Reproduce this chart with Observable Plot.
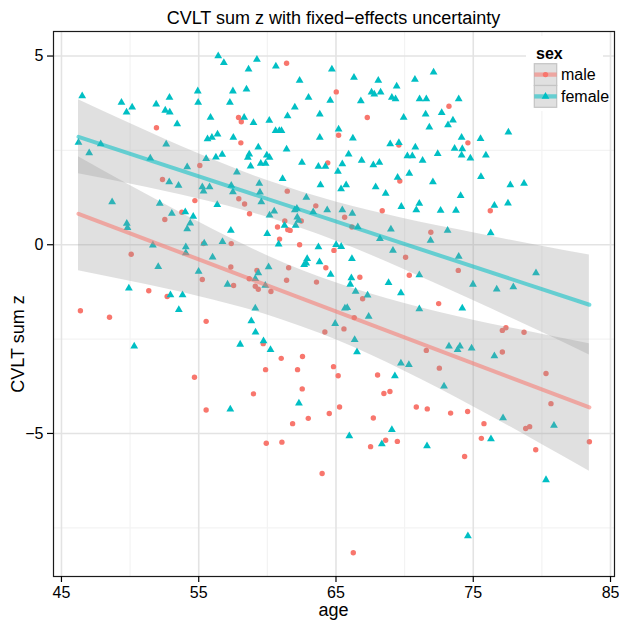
<!DOCTYPE html>
<html><head><meta charset="utf-8">
<script src="https://cdn.jsdelivr.net/npm/d3@7"></script>
<script src="https://cdn.jsdelivr.net/npm/@observablehq/plot@0.6"></script>
<style>body{margin:0;background:#fff} svg{display:block}</style>
</head><body><div id="chart"></div>
<script>
// ---- data ----
const femalePts = [
[56.42,5.00],[56.83,4.82],[46.51,3.94],[49.37,3.77],[50.15,3.64],[49.74,3.51],[51.90,3.72],[52.87,3.90],[52.56,3.56],[52.89,3.51],[53.43,3.20],[54.93,4.07],[54.96,3.77],[57.49,4.07],[57.27,3.77],[55.86,3.37],[55.64,2.80],[55.96,2.84],[56.37,2.93],[57.52,2.84],[46.24,2.71],[47.86,2.67],[47.02,2.43],[52.63,2.66],[51.47,2.29],[54.16,2.06],[55.54,2.28],[56.25,2.32],[56.71,2.39],[57.78,1.92],[52.85,1.66],[53.53,1.57],[55.26,1.53],[55.35,1.42],[55.79,1.53],[57.37,1.57],[57.49,1.40],[48.69,1.13],[52.16,1.09],[56.35,1.06],[53.04,0.83],[54.02,0.87],
[59.24,4.91],[58.63,4.65],[60.62,4.73],[58.48,4.12],[62.35,4.35],[64.70,4.65],[66.31,4.43],[68.08,4.35],[69.42,4.20],[70.75,4.38],[67.59,4.04],[67.79,3.99],[68.25,4.04],[69.07,3.90],[69.34,3.86],[71.09,3.86],[71.58,3.86],[63.00,3.90],[64.58,3.82],[66.81,3.81],[62.00,3.64],[63.82,3.46],[61.47,3.41],[60.14,3.29],[58.99,3.23],[58.31,3.37],[69.93,3.37],[71.53,3.46],[60.60,3.02],[60.87,3.02],[61.03,3.02],[65.19,3.06],[63.82,2.84],[66.23,2.82],[68.95,2.67],[69.58,2.70],[70.78,2.58],[59.34,2.58],[61.40,2.53],[58.68,2.40],[58.58,2.31],[58.78,2.08],[59.96,2.37],[60.16,2.31],[59.52,2.15],[59.87,2.15],[62.52,2.18],[63.72,2.07],[64.23,2.07],[65.46,2.14],[65.92,2.40],[66.87,2.23],[67.72,2.11],[68.16,2.18],[70.20,2.35],[70.56,2.35],[71.31,2.23],[65.14,1.94],[70.34,1.89],[69.49,1.78],[61.11,1.75],[63.87,1.58],[65.74,1.58],[65.37,1.48],[67.89,1.53],[68.62,1.36],[59.41,1.62],[59.46,1.39],[59.56,1.13],[62.84,1.25],[60.50,0.89],[62.00,0.92],[62.15,0.96],[63.34,0.87],[64.36,0.92],[65.46,0.92],[66.19,0.83],[69.76,1.01],[71.07,1.09],[70.85,0.92],
[72.11,4.57],[73.94,3.86],[72.70,3.50],[73.52,3.30],[73.16,3.17],[71.80,3.11],[74.15,2.84],[75.53,2.81],[77.56,2.98],[73.64,2.55],[74.20,2.54],[72.41,2.41],[74.15,2.37],[74.79,2.29],[75.92,2.37],[75.56,1.80],[72.06,1.66],[77.70,1.58],[78.70,1.62],[74.08,1.30],[76.54,1.04],[77.53,1.10],[72.62,0.91],[73.74,0.91],
[49.76,0.56],[49.81,0.45],[54.60,0.75],[54.38,0.57],[54.16,0.42],[51.66,-0.01],[54.06,-0.06],[54.06,-0.22],[55.40,0.04],[56.73,0.08],[57.34,0.38],[56.01,-0.33],[52.05,-0.58],[54.99,-0.71],[57.10,-1.05],[49.91,-1.15],[52.94,-1.33],[53.82,-1.33],[53.55,-1.72],[50.30,-2.69],[58.02,-2.64],
[60.16,0.78],[62.18,0.73],[62.27,0.64],[61.25,0.51],[62.06,0.51],[66.59,0.47],[69.00,0.41],[68.20,0.16],[59.99,0.29],[60.82,0.01],[63.72,-0.06],[65.01,0.00],[65.38,-0.05],[69.15,-0.15],[62.90,-0.37],[62.83,-0.49],[62.68,-0.53],[63.80,-0.46],[66.16,-0.37],[60.09,-0.59],[64.61,-0.79],[59.34,-0.75],[59.12,-0.90],[59.85,-1.08],[66.12,-0.88],[66.04,-1.05],[66.43,-1.24],[67.30,-1.34],[68.83,-1.01],[69.73,-1.28],[71.07,-0.80],[71.07,-1.70],[59.12,-1.68],[65.65,-1.68],[65.82,-1.67],[67.38,-1.90],[64.94,-2.09],[58.83,-2.02],[59.14,-2.32],[59.72,-2.55],[60.23,-2.78],[66.36,-2.52],[66.53,-2.84],[69.73,-3.14],[70.31,-3.18],[69.29,-3.48],
[73.13,0.38],[71.89,0.11],[76.27,0.31],[73.94,-0.31],[79.57,-0.75],[74.98,-1.05],[76.71,-1.18],[77.92,-1.12],[74.20,-1.68],[73.23,-2.69],[73.86,-2.78],[74.03,-2.69],[74.88,-2.74],[76.54,-2.95],[72.87,-3.75],
[57.30,-4.36],[62.30,-4.20],[65.97,-5.07],[69.07,-4.90],[68.34,-5.28],[71.63,-5.33],
[77.17,-4.59],[76.29,-5.15],[80.88,-4.79],[80.30,-6.23],[74.61,-7.72]
];
const malePts = [
[51.92,3.10],[57.90,3.37],[58.10,3.26],[58.07,2.70],[55.08,2.10],[52.36,1.73],[54.72,1.17],[57.92,1.22],[53.77,0.86],
[61.40,4.81],[65.02,4.05],[67.28,3.37],[65.19,2.90],[69.58,2.64],[64.40,2.17],[69.65,1.69],[61.45,1.42],[63.53,1.03],[68.37,0.90],[58.34,1.08],[58.70,0.82],
[73.23,3.67],[74.61,2.70],[76.24,0.90],
[52.53,0.67],[50.08,-0.25],[55.35,0.03],[57.37,0.03],[57.34,-0.59],[55.26,-0.92],[57.54,-1.08],[51.36,-1.22],[52.70,-1.37],[46.38,-1.75],[48.50,-1.92],[55.54,-2.03],[54.69,-3.51],
[60.74,0.47],[61.27,0.63],[62.47,0.63],[61.49,0.40],[61.66,0.38],[65.63,0.73],[60.89,0.15],[62.35,0.00],[64.85,-0.15],[66.16,0.47],[70.07,-0.33],[61.55,-0.61],[64.26,-0.61],[59.24,-0.68],[58.68,-0.90],[61.40,-0.94],[63.58,-0.99],[66.74,-0.86],[70.34,-0.81],[59.12,-1.10],[59.34,-1.18],[60.26,-1.24],[66.94,-1.43],[66.33,-1.93],[65.58,-2.23],[64.19,-2.31],[71.58,-2.80],[59.70,-2.62],[61.01,-3.01],[62.56,-2.96],[59.87,-3.31],[62.20,-3.31],[64.82,-3.23],[65.16,-3.47],[68.03,-3.45],[58.99,-3.95],[62.54,-3.82],[68.49,-3.94],[68.93,-3.89],
[71.91,0.33],[73.91,-0.68],[72.48,-1.56],[77.12,-2.27],[77.38,-2.20],[78.70,-2.32],[77.12,-2.84],[72.53,-3.27],[80.30,-3.41],
[55.54,-4.38],
[65.26,-4.30],[62.98,-4.60],[64.51,-4.47],[61.84,-4.74],[67.72,-4.59],[70.85,-4.30],[71.65,-4.35],[59.92,-5.26],[61.06,-5.23],[63.99,-6.06],[67.52,-5.35],[68.62,-5.18],[69.47,-5.21],[66.26,-8.16],
[73.35,-4.46],[74.59,-4.42],[75.78,-4.74],[75.59,-5.13],[74.37,-5.61],[78.82,-4.87],[79.11,-4.82],[79.55,-5.43],[80.66,-4.21],[83.46,-5.22]
];
// fitted lines (end points) and uncertainty ribbons
const fitAge = [46.24, 83.46];
const femaleFit = [2.86, -1.59];
const maleFit = [0.82, -4.31];
const ribbonAge   = [46.24, 50, 55, 60, 65, 70, 75, 80, 83.46];
const femaleUpper = [3.84, 3.21, 2.41, 1.70, 1.13, 0.69, 0.32, -0.04, -0.27];
const femaleLower = [1.88, 1.61, 1.21, 0.73, 0.10, -0.66, -1.48, -2.32, -2.92];
const maleUpper   = [2.33, 1.57, 0.60, -0.29, -1.01, -1.56, -2.00, -2.37, -2.62];
const maleLower   = [-0.69, -0.97, -1.37, -1.86, -2.52, -3.35, -4.29, -5.29, -6.00];
const xMajor = [45, 55, 65, 75, 85];
const xMinor = [50, 60, 70, 80];
const yMajor = [-5, 0, 5];
const yMinor = [-7.5, -2.5, 2.5];
const sexes = ["male", "female"];
const colors = {male: "#F8766D", female: "#00BFC4"};

// ---- tables ----
const female = femalePts.map(([age, z]) => ({age, z}));
const male = malePts.map(([age, z]) => ({age, z}));
const ribbon = (lo, hi) => ribbonAge.map((age, i) => ({age, lo: lo[i], hi: hi[i]}));
const fit = (v) => fitAge.map((age, i) => ({age, z: v[i]}));

const FONT = "'Liberation Sans', Arial, Helvetica, sans-serif";
const M = {top: 31, bottom: 46, left: 53, right: 5};
const W = 619, H = 622;
const RC = 2.7, RT = 2.9;

const plot = Plot.plot({
  width: W, height: H,
  marginTop: M.top, marginBottom: M.bottom, marginLeft: M.left, marginRight: M.right,
  style: {fontFamily: FONT, color: "black", background: "white"},
  x: {domain: [44.42, 85.29], label: null},
  y: {domain: [-8.79, 5.65], label: null},
  marks: [
    Plot.gridX(xMinor, {stroke: "#f3f3f3", strokeOpacity: 1, strokeWidth: 1.2}),
    Plot.gridY(yMinor, {stroke: "#f3f3f3", strokeOpacity: 1, strokeWidth: 1.2}),
    Plot.gridX(xMajor, {stroke: "#e3e3e3", strokeOpacity: 1, strokeWidth: 1.6}),
    Plot.gridY(yMajor, {stroke: "#e3e3e3", strokeOpacity: 1, strokeWidth: 1.6}),
    Plot.dot(male, {x: "age", y: "z", r: RC, fill: colors.male, symbol: "circle"}),
    Plot.dot(female, {x: "age", y: "z", r: RT, fill: colors.female, symbol: "triangle"}),
    Plot.areaY(ribbon(femaleLower, femaleUpper), {x: "age", y1: "lo", y2: "hi", fill: "#999999", fillOpacity: 0.3, curve: "monotone-x"}),
    Plot.areaY(ribbon(maleLower, maleUpper), {x: "age", y1: "lo", y2: "hi", fill: "#999999", fillOpacity: 0.3, curve: "monotone-x"}),
    Plot.line(fit(femaleFit), {x: "age", y: "z", stroke: colors.female, strokeWidth: 4, strokeOpacity: 0.55}),
    Plot.line(fit(maleFit), {x: "age", y: "z", stroke: colors.male, strokeWidth: 4, strokeOpacity: 0.55}),
    Plot.frame({stroke: "#1a1a1a", strokeWidth: 1.2}),
    Plot.axisX(xMajor, {tickSize: 6, tickPadding: 4, fontSize: 16, strokeWidth: 1.2, label: null}),
    Plot.axisY(yMajor, {tickSize: 6, tickPadding: 4, fontSize: 16, strokeWidth: 1.2, label: null})
  ]
});
document.getElementById("chart").appendChild(plot);

// ---- titles and legend (decorations) ----
const svg = d3.select(plot);
const cx = (M.left + (W - M.right)) / 2;
svg.append("text").attr("x", cx).attr("y", 24).attr("text-anchor", "middle")
  .attr("font-family", FONT).attr("font-size", 18).attr("fill", "black")
  .text("CVLT sum z with fixed\u2212effects uncertainty");
svg.append("text").attr("x", cx).attr("y", 616).attr("text-anchor", "middle")
  .attr("font-family", FONT).attr("font-size", 18).attr("fill", "black").text("age");
svg.append("text").attr("transform", `translate(24,344) rotate(-90)`).attr("text-anchor", "middle")
  .attr("font-family", FONT).attr("font-size", 18).attr("fill", "black").text("CVLT sum z");

const lg = svg.append("g").attr("font-family", FONT).attr("text-anchor", "start");
lg.append("rect").attr("x", 526).attr("y", 36).attr("width", 77).attr("height", 75).attr("fill", "white");
lg.append("text").attr("x", 536).attr("y", 59).attr("text-anchor", "start").attr("font-size", 16).attr("font-weight", "bold").text("sex");
sexes.forEach((s, i) => {
  const y0 = 63.7 + i * 21.8, kx = 534.3, kw = 22.4, kh = 21.8, mid = y0 + kh / 2;
  lg.append("rect").attr("x", kx).attr("y", y0).attr("width", kw).attr("height", kh)
    .attr("fill", "#e0e0e0").attr("stroke", "#c4c4c4").attr("stroke-width", 1.2);
  lg.append("line").attr("x1", kx).attr("x2", kx + kw).attr("y1", mid).attr("y2", mid)
    .attr("stroke", colors[s]).attr("stroke-opacity", 0.55).attr("stroke-width", 4.3);
  if (s === "male") {
    lg.append("circle").attr("cx", kx + kw / 2).attr("cy", mid).attr("r", RC).attr("fill", colors[s]);
  } else {
    lg.append("path").attr("transform", `translate(${kx + kw / 2},${mid})`)
      .attr("d", d3.symbol(d3.symbolTriangle, Math.PI * RT * RT)()).attr("fill", colors[s]);
  }
  lg.append("text").attr("x", 561).attr("y", mid + 5.6).attr("text-anchor", "start").attr("font-size", 16).text(s);
});
</script>
</body></html>
